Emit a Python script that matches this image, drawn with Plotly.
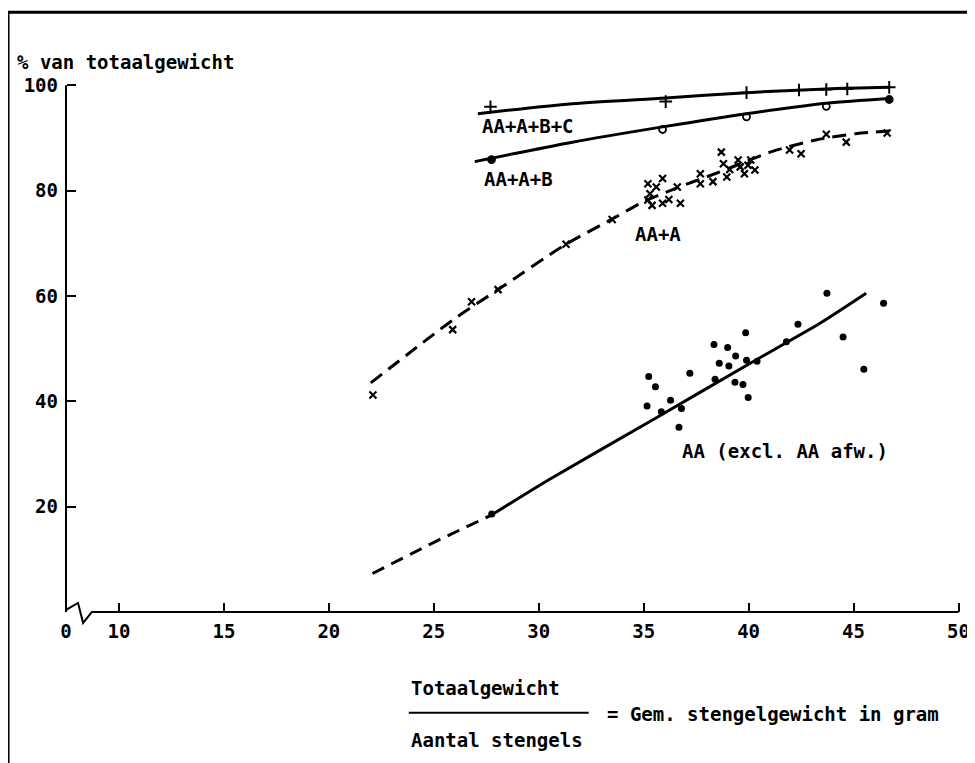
import plotly.graph_objects as go

# ---------------- data ----------------
# AA+A+B+C  (+ markers) and its drawn curve
abc_x = [27.7, 36.05, 39.9, 42.4, 43.7, 44.7, 46.7]
abc_y = [95.9, 96.9, 98.6, 99.1, 99.2, 99.3, 99.6]
abc_curve_x = [27.1, 31.6, 36.05, 39.9, 43.7, 46.7]
abc_curve_y = [94.6, 96.5, 97.6, 98.6, 99.3, 99.6]

# AA+A+B  (o markers, filled at the ends) and its drawn curve
ab_x = [27.75, 35.9, 39.9, 43.7, 46.7]
ab_y = [85.9, 91.6, 94.0, 96.0, 97.3]
ab_symbols = ["circle", "circle-open", "circle-open", "circle-open", "circle"]
ab_curve_x = [26.95, 31.6, 35.9, 39.9, 43.7, 46.7]
ab_curve_y = [85.5, 89.2, 92.1, 94.6, 96.6, 97.5]

# AA+A  (x markers) and its dashed curve
a_x = [22.1, 25.9, 26.8, 28.06, 31.3, 33.5, 35.2, 35.9, 35.6, 35.3, 35.2, 35.4,
       35.9, 36.2, 36.75, 36.6, 37.7, 37.7, 38.3, 38.7, 38.8, 38.96, 39.1, 39.5,
       39.6, 39.8, 39.97, 40.1, 40.3, 41.95, 42.5, 43.7, 44.65, 46.6]
a_y = [41.2, 53.6, 58.9, 61.2, 69.8, 74.5, 81.3, 82.3, 80.7, 79.4, 78.2, 77.2,
       77.6, 78.3, 77.6, 80.7, 83.2, 81.3, 81.7, 87.3, 85.1, 82.6, 84.0, 85.8,
       84.5, 83.2, 84.8, 85.8, 83.9, 87.7, 87.0, 90.7, 89.2, 90.95]
a_curve_x = [22.0, 25.9, 28.1, 31.3, 33.5, 35.0, 36.7, 38.6, 41.1, 43.2, 45.1, 46.7]
a_curve_y = [43.5, 55.4, 61.3, 69.8, 74.6, 77.9, 80.7, 83.5, 87.4, 89.6, 90.8, 91.3]

# AA (excl. AA afw.)  (filled dots), solid fitted line and dashed extension
aa_x = [27.76, 35.16, 35.24, 35.56, 35.84, 36.28, 36.68, 36.8, 37.2, 38.35, 38.4,
        38.6, 39.0, 39.06, 39.35, 39.38, 39.73, 39.86, 39.9, 39.98, 40.4, 41.8,
        42.35, 43.73, 44.5, 45.49, 46.43]
aa_y = [18.6, 39.1, 44.7, 42.75, 38.0, 40.2, 35.05, 38.65, 45.3, 50.8, 44.2,
        47.2, 50.2, 46.7, 43.6, 48.6, 43.2, 53.0, 47.8, 40.7, 47.6, 51.3,
        54.6, 60.5, 52.2, 46.1, 58.6]
aa_fit_x = [27.75, 30.44, 35.4, 40.2, 43.4, 45.6]
aa_fit_y = [18.4, 25.0, 36.4, 47.5, 54.8, 60.5]
aa_ext_x = [22.08, 25.2, 27.75]
aa_ext_y = [7.3, 13.6, 18.4]

x_tick_vals = [10, 15, 20, 25, 30, 35, 40, 45, 50]
x_tick_text = ["10", "15", "20", "25", "30", "35", "40", "45", "50"]
y_tick_vals = [20, 40, 60, 80, 100]
y_tick_text = ["20", "40", "60", "80", "100"]

# ---------------- layout geometry ----------------
PAGE_OFF = 8                      # default body margin of the html page
W, H = 975, 763
PXX, PX0 = 21.0, -91.0 - PAGE_OFF   # figure pixel = PXX * x + PX0
PY0, PYY = 612.0 - PAGE_OFF, 5.27   # figure pixel = PY0 - PYY * y
X_RANGE = [7.0, 50.5]
Y_RANGE = [-4.0, 101.0]
X_LEFT = (66 - PAGE_OFF - PX0) / PXX   # where the (broken) y axis stands, labelled 0

ml = PXX * X_RANGE[0] + PX0
plot_w = PXX * (X_RANGE[1] - X_RANGE[0])
mr = W - ml - plot_w
mt = PY0 - PYY * Y_RANGE[1]
plot_h = PYY * (Y_RANGE[1] - Y_RANGE[0])
mb = H - mt - plot_h


def px(p):
    """reference-screen x pixel -> paper fraction"""
    return (p - PAGE_OFF - ml) / plot_w


def py(p):
    """reference-screen y pixel -> paper fraction"""
    return (mt + plot_h - (p - PAGE_OFF)) / plot_h


FONT = "DejaVu Sans Mono"
BLACK = "#000000"
fs = 19

fig = go.Figure()

# curves
fig.add_trace(go.Scatter(x=abc_curve_x, y=abc_curve_y, mode="lines",
                         line=dict(color=BLACK, width=3, shape="spline", smoothing=0.8),
                         hoverinfo="skip", showlegend=False))
fig.add_trace(go.Scatter(x=ab_curve_x, y=ab_curve_y, mode="lines",
                         line=dict(color=BLACK, width=3, shape="spline", smoothing=0.8),
                         hoverinfo="skip", showlegend=False))
fig.add_trace(go.Scatter(x=a_curve_x, y=a_curve_y, mode="lines",
                         line=dict(color=BLACK, width=3, shape="spline", smoothing=0.8,
                                   dash="14px,8px"),
                         hoverinfo="skip", showlegend=False))
fig.add_trace(go.Scatter(x=aa_fit_x, y=aa_fit_y, mode="lines",
                         line=dict(color=BLACK, width=3, shape="spline", smoothing=0.6),
                         hoverinfo="skip", showlegend=False))
fig.add_trace(go.Scatter(x=aa_ext_x, y=aa_ext_y, mode="lines",
                         line=dict(color=BLACK, width=3, dash="13px,8px"),
                         hoverinfo="skip", showlegend=False))

# markers
fig.add_trace(go.Scatter(x=abc_x, y=abc_y, mode="markers", name="AA+A+B+C",
                         marker=dict(symbol="cross-thin-open", size=9, color=BLACK,
                                     line=dict(color=BLACK, width=2)),
                         showlegend=False))
fig.add_trace(go.Scatter(x=ab_x, y=ab_y, mode="markers", name="AA+A+B",
                         marker=dict(symbol=ab_symbols, size=7, color=BLACK,
                                     line=dict(color=BLACK, width=1.8)),
                         showlegend=False))
fig.add_trace(go.Scatter(x=a_x, y=a_y, mode="markers", name="AA+A",
                         marker=dict(symbol="x-thin-open", size=7, color=BLACK,
                                     line=dict(color=BLACK, width=2.2)),
                         showlegend=False))
fig.add_trace(go.Scatter(x=aa_x, y=aa_y, mode="markers", name="AA (excl. AA afw.)",
                         marker=dict(symbol="circle", size=7, color=BLACK),
                         showlegend=False))

# axis lines with the break near the origin
path = (f"M {X_LEFT},100 L {X_LEFT},0.38 L 8.05,1.7 L 8.29,-2.1 L 8.71,0 L 50,0")
shapes = [
    dict(type="path", xref="x", yref="y", path=path,
         line=dict(color=BLACK, width=2)),
    # outer frame (left and top visible)
    dict(type="rect", xref="paper", yref="paper",
         x0=px(8), x1=px(975 + 20), y0=py(763 + 20), y1=py(12),
         line=dict(color=BLACK, width=3)),
    # fraction bar
    dict(type="line", xref="paper", yref="paper",
         x0=px(409), x1=px(589), y0=py(713), y1=py(713),
         line=dict(color=BLACK, width=2)),
]

ann_font = dict(family=FONT, size=fs, color=BLACK, weight="bold")
annotations = [
    dict(text="% van totaalgewicht", x=px(15), y=py(62), xref="paper", yref="paper",
         xanchor="left", yanchor="middle", showarrow=False, font=ann_font),
    dict(text="AA+A+B+C", x=27.19, y=92.2, xref="x", yref="y",
         xanchor="left", yanchor="middle", showarrow=False, font=ann_font),
    dict(text="AA+A+B", x=27.29, y=82.2, xref="x", yref="y",
         xanchor="left", yanchor="middle", showarrow=False, font=ann_font),
    dict(text="AA+A", x=34.48, y=71.7, xref="x", yref="y",
         xanchor="left", yanchor="middle", showarrow=False, font=ann_font),
    dict(text="AA (excl. AA afw.)", x=36.71, y=30.55, xref="x", yref="y",
         xanchor="left", yanchor="middle", showarrow=False, font=ann_font),
    dict(text="Totaalgewicht", x=px(409), y=py(688), xref="paper", yref="paper",
         xanchor="left", yanchor="middle", showarrow=False, font=ann_font),
    dict(text="= Gem. stengelgewicht in gram", x=px(605), y=py(714), xref="paper",
         yref="paper", xanchor="left", yanchor="middle", showarrow=False, font=ann_font),
    dict(text="Aantal stengels", x=px(409), y=py(740), xref="paper", yref="paper",
         xanchor="left", yanchor="middle", showarrow=False, font=ann_font),
]

fig.update_layout(
    width=W, height=H,
    margin=dict(l=ml, r=mr, t=mt, b=mb, pad=0, autoexpand=False),
    paper_bgcolor="white", plot_bgcolor="white",
    shapes=shapes, annotations=annotations,
    showlegend=False,
    xaxis=dict(range=X_RANGE, anchor="free",
               position=(0 - Y_RANGE[0]) / (Y_RANGE[1] - Y_RANGE[0]),
               tickmode="array", tickvals=[X_LEFT] + x_tick_vals,
               ticktext=["0"] + x_tick_text,
               ticks="inside", ticklen=9, tickwidth=2, tickcolor=BLACK,
               ticklabelstandoff=6,
               showline=False, showgrid=False, zeroline=False,
               tickfont=dict(family=FONT, size=fs, color=BLACK, weight="bold")),
    yaxis=dict(range=Y_RANGE, anchor="free",
               position=(X_LEFT - X_RANGE[0]) / (X_RANGE[1] - X_RANGE[0]),
               tickmode="array", tickvals=y_tick_vals, ticktext=y_tick_text,
               ticks="inside", ticklen=9, tickwidth=2, tickcolor=BLACK,
               ticklabelstandoff=8,
               showline=False, showgrid=False, zeroline=False,
               tickfont=dict(family=FONT, size=fs, color=BLACK, weight="bold")),
)

fig.write_html("out.html")
